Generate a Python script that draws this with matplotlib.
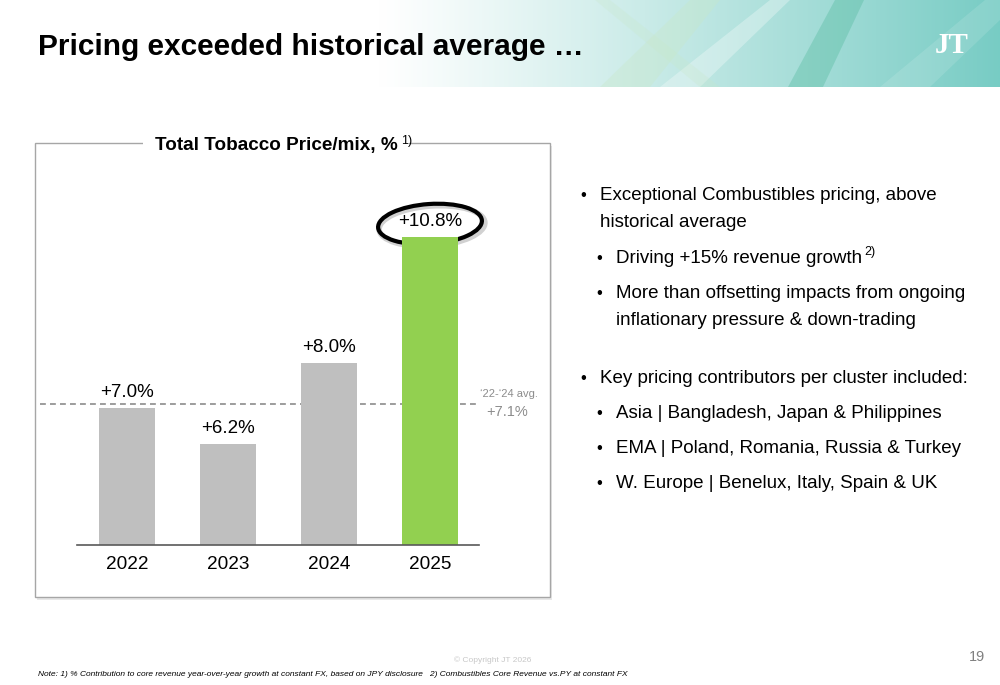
import matplotlib
matplotlib.use("Agg")
import matplotlib.pyplot as plt
import numpy as np
from matplotlib.patches import Rectangle, Ellipse, Polygon

plt.rcParams['font.family'] = ['Liberation Sans', 'DejaVu Sans']

years = ['2022', '2023', '2024', '2025']
price_mix = [7.0, 6.2, 8.0, 10.8]
labels = ['+7.0%', '+6.2%', '+8.0%', '+10.8%']
avg_22_24 = 7.1

bullets = [
    (0, 'Exceptional Combustibles pricing, above'),
    (-1, 'historical average'),
    (1, 'Driving +15% revenue growth'),
    (1, 'More than offsetting impacts from ongoing'),
    (-2, 'inflationary pressure & down-trading'),
    (0, 'Key pricing contributors per cluster included:'),
    (1, 'Asia | Bangladesh, Japan & Philippines'),
    (1, 'EMA | Poland, Romania, Russia & Turkey'),
    (1, 'W. Europe | Benelux, Italy, Spain & UK'),
]
bullet_y = [195, 222, 258, 293, 320, 378, 413, 448, 483]

GRAY = '#bfbfbf'
GREEN = '#92d050'

fig = plt.figure(figsize=(10, 6.85), dpi=100)
bg = fig.add_axes([0, 0, 1, 1])
bg.set_xlim(0, 1000)
bg.set_ylim(685, 0)
bg.axis('off')

# header band: white -> teal gradient
grad = np.linspace(0, 1, 400)
grad = np.clip((grad - 0.38) / 0.62, 0, 1) ** 1.1
c0 = np.array([1.0, 1.0, 1.0])
c1 = np.array([0.47, 0.80, 0.77])
img = c0[None, None, :] * (1 - grad[None, :, None]) + c1[None, None, :] * grad[None, :, None]
img = np.repeat(img, 2, axis=0)
bg.imshow(img, extent=[0, 1000, 87, 0], aspect='auto', zorder=0)
streaks = [
    ([(788, 87), (823, 87), (864, 0), (835, 0)], '#4fb89a', 0.35),
    ([(600, 87), (650, 87), (720, 0), (690, 0)], '#c8e8c8', 0.35),
    ([(660, 87), (700, 87), (790, 0), (770, 0)], '#ffffff', 0.3),
    ([(700, 87), (720, 87), (610, 0), (595, 0)], '#c8e8c8', 0.25),
    ([(880, 87), (930, 87), (1000, 20), (1000, 0), (985, 0)], '#ffffff', 0.12),
]
for pts, col, a in streaks:
    bg.add_patch(Polygon(pts, closed=True, facecolor=col, alpha=a, edgecolor='none', zorder=1))
bg.text(38, 47, 'Pricing exceeded historical average \u2026', fontsize=21.5, fontweight='bold',
        va='center', ha='left', color='black', zorder=3)
bg.text(952, 45, 'JT', fontsize=21, fontweight='bold', family='Liberation Serif',
        color='white', va='center', ha='center', zorder=3)

# chart frame
bg.add_patch(Rectangle((37, 146), 515, 454, facecolor='#e8e8e8', edgecolor='none', zorder=1))
bg.add_patch(Rectangle((35, 143), 515, 454, facecolor='white', edgecolor='#a6a6a6', lw=1.0, zorder=2))
bg.text(276, 145, 'Total Tobacco Price/mix, %', fontsize=13.6, fontweight='bold', ha='center',
        va='center', zorder=4, bbox=dict(facecolor='white', edgecolor='none', pad=8))
bg.text(401, 141, '1)', fontsize=9, ha='left', va='center', zorder=5)

# bar chart axes
y0 = 3.956
ppu = 45.0
ax = fig.add_axes([77 / 1000, (685 - 545) / 685, (479 - 77) / 1000, (545 - 190) / 685])
ax.set_xlim(-0.495, 3.485)
ax.set_ylim(y0, y0 + 355 / ppu)
x = np.arange(len(years))
colors = [GRAY, GRAY, GRAY, GREEN]
ax.bar(x, price_mix, width=0.554, color=colors, zorder=2)
for xi, v, lab in zip(x, price_mix, labels):
    ax.text(xi, v + 0.34, lab, ha='center', va='center', fontsize=13.5, zorder=8)
ax.set_xticks(x)
ax.set_xticklabels(years, fontsize=13.7)
ax.tick_params(axis='x', length=0, pad=8)
ax.set_yticks([])
for s in ['top', 'right', 'left']:
    ax.spines[s].set_visible(False)
ax.spines['bottom'].set_color('#595959')
ax.spines['bottom'].set_linewidth(1.2)
ax.patch.set_alpha(0)
ax.set_zorder(5)

# average line drawn in pixel space over the frame width
avg_y = 545 - (avg_22_24 - y0) * ppu
bg.plot([40, 476], [avg_y, avg_y], ls=(0, (3.5, 2.5)), color='#8c8c8c', lw=1.2, zorder=6)
bg.text(509, 394, "\u201822-\u201824 avg.", fontsize=8, color='#8c8c8c', ha='center', va='center', zorder=6)
bg.text(507, 412, '+7.1%', fontsize=10.5, color='#8c8c8c', ha='center', va='center', zorder=6)

# highlight ellipse around the 2025 label
bg.add_patch(Ellipse((432, 226), 106, 40, angle=-4, facecolor='none', edgecolor='#999999',
                     lw=4, alpha=0.45, zorder=6))
bg.add_patch(Ellipse((430, 224), 104, 40, angle=-4, facecolor='none', edgecolor='black', lw=3, zorder=7))

# bullets on the right
for (level, line), y in zip(bullets, bullet_y):
    if level == 0:
        bg.text(580, y, '\u2022', fontsize=12, ha='left', va='center')
        tx = 600
    elif level == 1:
        bg.text(596, y, '\u2022', fontsize=12, ha='left', va='center')
        tx = 616
    elif level == -1:
        tx = 600
    else:
        tx = 616
    bg.text(tx, y, line, fontsize=13.5, ha='left', va='center')
    if line.startswith('Driving'):
        bg.text(864, y - 6, '2)', fontsize=9, ha='left', va='center')

# footer
bg.text(493, 660, '\u00a9 Copyright JT 2026', fontsize=6, color='#c8c8c8', ha='center', va='center')
bg.text(977, 657, '19', fontsize=10.5, color='#808080', ha='center', va='center')
bg.text(38, 674, 'Note: 1) % Contribution to core revenue year-over-year growth at constant FX, based on JPY disclosure'
        '   2) Combustibles Core Revenue vs.PY at constant FX', fontsize=6, style='italic',
        ha='left', va='center')

fig.savefig('out.png', dpi=100)
